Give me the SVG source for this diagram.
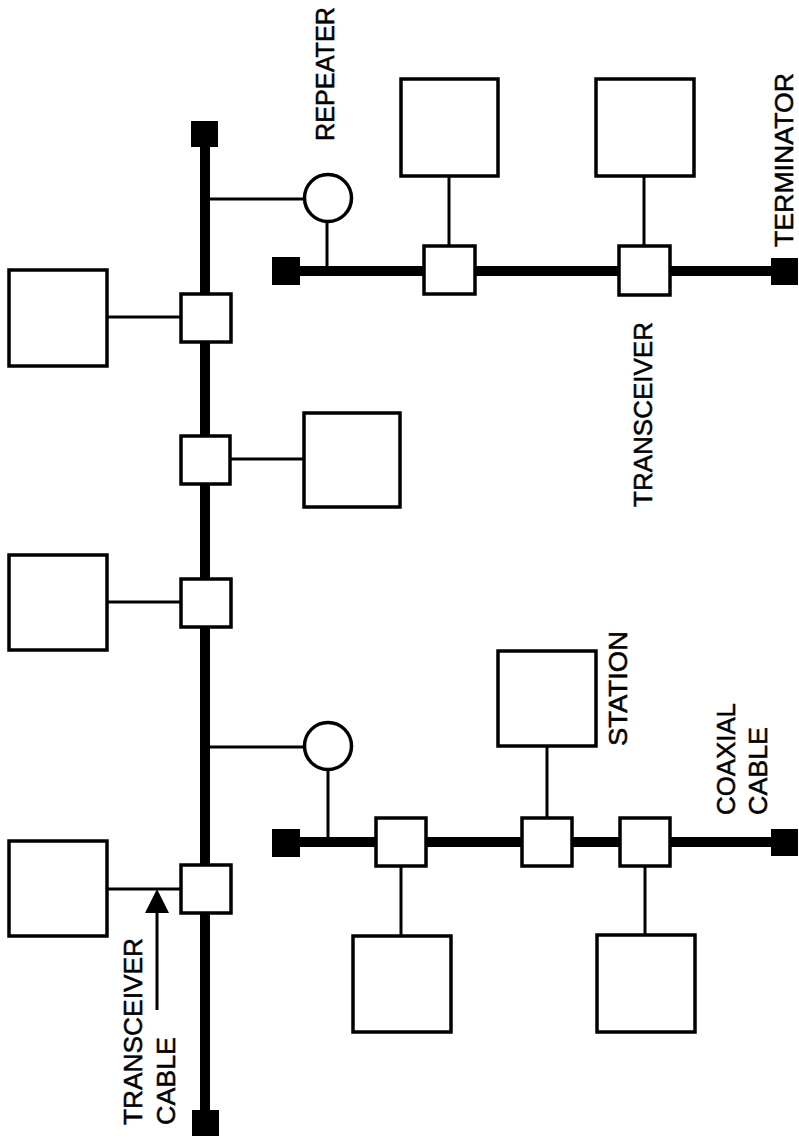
<svg xmlns="http://www.w3.org/2000/svg" width="799" height="1139" viewBox="0 0 799 1139">
<defs>
<style>
.box{fill:#fff;stroke:#000;stroke-width:3.5}
.tx{fill:#fff;stroke:#000;stroke-width:3.5}
.rep{fill:#fff;stroke:#000;stroke-width:3.5}
.term{fill:#000;stroke:none}
.bus{stroke:#000;stroke-width:10;fill:none}
.ln{stroke:#000;stroke-width:3;fill:none}
.lbl{font-family:"Liberation Sans",Arial,Helvetica,sans-serif;font-size:26px;fill:#000;stroke:#000;stroke-width:0.5}
</style>
</defs>
<rect width="799" height="1139" fill="#fff"/>

<g id="connectors">
<line class="bus" x1="205" y1="134" x2="205" y2="1123"/>
<line class="bus" x1="286" y1="271" x2="784" y2="271"/>
<line class="bus" x1="286" y1="842" x2="784" y2="842"/>
<line class="ln" x1="108" y1="317" x2="180" y2="317"/>
<line class="ln" x1="231" y1="459" x2="303" y2="459"/>
<line class="ln" x1="108" y1="602" x2="180" y2="602"/>
<line class="ln" x1="108" y1="889" x2="180" y2="889"/>
<line class="ln" x1="209" y1="199" x2="304" y2="199"/>
<line class="ln" x1="209" y1="747" x2="304" y2="747"/>
<line class="ln" x1="327" y1="222" x2="327" y2="271"/>
<line class="ln" x1="328" y1="770" x2="328" y2="842"/>
<line class="ln" x1="449" y1="177" x2="449" y2="245"/>
<line class="ln" x1="644" y1="177" x2="644" y2="245"/>
<line class="ln" x1="547" y1="747" x2="547" y2="817"/>
<line class="ln" x1="401" y1="867" x2="401" y2="935"/>
<line class="ln" x1="645" y1="867" x2="645" y2="934"/>
<line class="ln" x1="157" y1="1010" x2="157" y2="912"/>
<polygon points="157,889 145,913 169,913" fill="#000"/>
</g>

<g id="terminators">
<rect id="term-top" class="term" x="191" y="121" width="27" height="26"/>
<rect id="term-bottom" class="term" x="192" y="1110" width="27" height="26"/>
<rect id="term-ur-left" class="term" x="272" y="257" width="28" height="28"/>
<rect id="term-ur-right" class="term" x="771" y="258" width="27" height="27"/>
<rect id="term-lr-left" class="term" x="272" y="829" width="28" height="28"/>
<rect id="term-lr-right" class="term" x="771" y="829" width="27" height="27"/>
</g>

<g id="repeater-1"><circle class="rep" cx="328" cy="198" r="23.5"/></g>
<g id="repeater-2"><circle class="rep" cx="328" cy="746" r="23.5"/></g>

<g id="transceiver-m1"><rect class="tx" x="181" y="294" width="50" height="48"/></g>
<g id="transceiver-m2"><rect class="tx" x="181" y="436" width="49" height="48"/></g>
<g id="transceiver-m3"><rect class="tx" x="181" y="579" width="50" height="48"/></g>
<g id="transceiver-m4"><rect class="tx" x="181" y="865" width="50" height="48"/></g>
<g id="transceiver-u1"><rect class="tx" x="424" y="246" width="51" height="48"/></g>
<g id="transceiver-u2"><rect class="tx" x="619" y="246" width="51" height="49"/></g>
<g id="transceiver-l1"><rect class="tx" x="376" y="818" width="50" height="48"/></g>
<g id="transceiver-l2"><rect class="tx" x="522" y="818" width="50" height="48"/></g>
<g id="transceiver-l3"><rect class="tx" x="620" y="818" width="50" height="48"/></g>

<g id="station-m1"><rect class="box" x="9" y="270" width="98" height="96"/></g>
<g id="station-m2"><rect class="box" x="304" y="413" width="96" height="94"/></g>
<g id="station-m3"><rect class="box" x="9" y="555" width="98" height="95"/></g>
<g id="station-m4"><rect class="box" x="9" y="841" width="98" height="95"/></g>
<g id="station-u1"><rect class="box" x="401" y="79" width="97" height="97"/></g>
<g id="station-u2"><rect class="box" x="596" y="79" width="98" height="97"/></g>
<g id="station-l-top"><rect class="box" x="498" y="651" width="98" height="95"/></g>
<g id="station-l1"><rect class="box" x="353" y="936" width="98" height="96"/></g>
<g id="station-l3"><rect class="box" x="597" y="935" width="98" height="97"/></g>

<g id="labels">
<text class="lbl" transform="translate(334,141) rotate(-90)" style="font-size:25px" textLength="134" lengthAdjust="spacingAndGlyphs">REPEATER</text>
<text class="lbl" transform="translate(793,247) rotate(-90)" textLength="174" lengthAdjust="spacingAndGlyphs">TERMINATOR</text>
<text class="lbl" transform="translate(652,507) rotate(-90)" textLength="185" lengthAdjust="spacingAndGlyphs">TRANSCEIVER</text>
<text class="lbl" transform="translate(627,746) rotate(-90)" textLength="115" lengthAdjust="spacingAndGlyphs">STATION</text>
<text class="lbl" transform="translate(735,815) rotate(-90)" textLength="112" lengthAdjust="spacingAndGlyphs">COAXIAL</text>
<text class="lbl" transform="translate(767,815) rotate(-90)" textLength="88" lengthAdjust="spacingAndGlyphs">CABLE</text>
<text class="lbl" transform="translate(142,1125) rotate(-90)" textLength="187" lengthAdjust="spacingAndGlyphs">TRANSCEIVER</text>
<text class="lbl" transform="translate(175,1125) rotate(-90)" textLength="88" lengthAdjust="spacingAndGlyphs">CABLE</text>
</g>
</svg>
